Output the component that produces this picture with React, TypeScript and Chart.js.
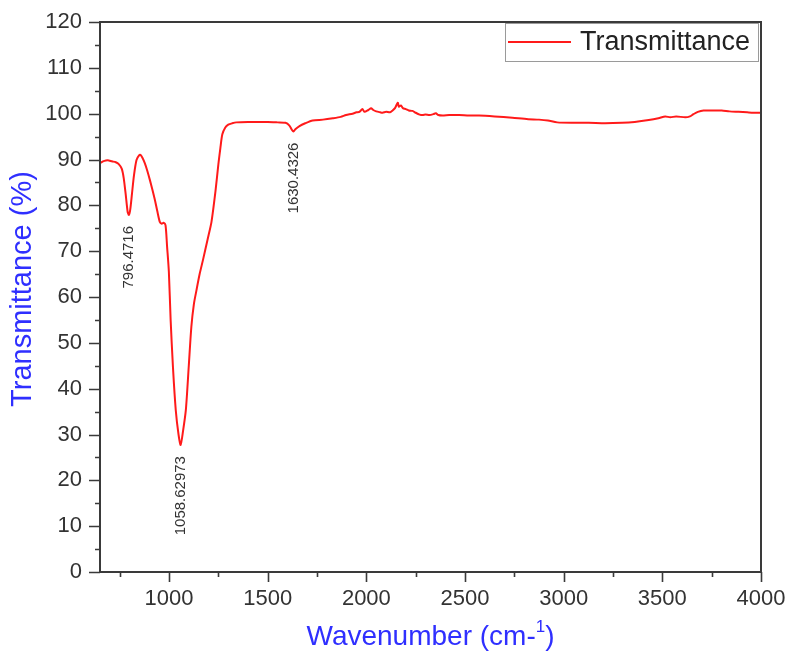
import React, { useEffect, useRef } from "react";
import { Chart, registerables } from "chart.js";

Chart.register(...registerables);

// FTIR spectrum: wavenumber (cm-1) vs transmittance (%)
const wavenumbers = [
  650, 665, 680, 695, 710, 730, 745, 760, 770, 780, 790, 796.4716, 803, 812, 822, 835, 848, 855, 865, 877,
  890, 903, 915, 928, 940, 953, 963, 972, 982, 990, 999, 1008, 1020, 1034, 1048, 1058.62973, 1070, 1085, 1100, 1113,
  1126, 1139, 1155, 1172, 1195, 1215, 1235, 1250, 1260, 1270, 1285, 1300, 1320, 1341, 1400, 1450, 1500, 1550, 1590, 1610,
  1622, 1630.4326, 1640, 1661, 1690, 1728, 1780, 1830, 1870, 1897, 1930, 1950, 1965, 1980, 1990, 2010, 2024, 2035, 2050, 2070,
  2082, 2100, 2120, 2133, 2145, 2159, 2165, 2175, 2185, 2200, 2215, 2234, 2250, 2270, 2285, 2300, 2320, 2340, 2352, 2365,
  2386, 2420, 2470, 2520, 2571, 2650, 2740, 2820, 2875, 2920, 2967, 3050, 3127, 3210, 3296, 3360, 3431, 3480, 3515, 3540,
  3570, 3616, 3640, 3658, 3680, 3709, 3750, 3801, 3840, 3886, 3930, 3979, 4000,
];

const transmittance = [
  89.2, 89.6, 89.8, 89.8, 89.6, 89.4, 89.0, 88.0, 86.0, 82.5, 78.6, 77.9, 79.0, 82.5, 86.5, 89.9, 90.9, 91.0, 90.4, 89.2,
  87.5, 85.5, 83.5, 81.2, 78.8, 76.4, 76.0, 76.2, 75.7, 71.0, 65.5, 55.0, 44.5, 35.3, 30.0, 27.7, 30.5, 35.3, 45.0, 53.5,
  58.5, 61.5, 65.0, 68.1, 72.5, 76.4, 83.0, 89.0, 92.5, 95.5, 97.0, 97.6, 97.9, 98.1, 98.2, 98.2, 98.2, 98.1, 98.0, 97.4,
  96.5, 96.1, 96.6, 97.3, 97.9, 98.5, 98.7, 99.0, 99.3, 99.7, 100.0, 100.3, 100.4, 101.0, 100.4, 100.8, 101.2, 100.8, 100.5, 100.3,
  100.2, 100.4, 100.3, 100.7, 101.2, 102.4, 101.5, 101.8, 101.2, 101.0, 100.7, 100.6, 100.2, 99.8, 99.7, 99.8, 99.7, 99.9, 100.1, 99.7,
  99.6, 99.7, 99.7, 99.6, 99.6, 99.4, 99.1, 98.8, 98.7, 98.5, 98.1, 98.0, 98.0, 97.9, 98.0, 98.2, 98.6, 99.0, 99.4, 99.2,
  99.4, 99.2, 99.4, 99.9, 100.4, 100.7, 100.7, 100.7, 100.5, 100.4, 100.3, 100.2, 100.2,
];

// Labelled absorption bands
const peakWavenumbers = [796.4716, 1058.62973, 1630.4326];
const peakTexts = ["796.4716", "1058.62973", "1630.4326"];

const xTickValues = [1000, 1500, 2000, 2500, 3000, 3500, 4000];
const xMinorStep = 250;
const yMinorStep = 5;

const seriesName = "Transmittance";
const xTitle = "Wavenumber (cm-";
const xTitleSup = "1";
const yTitle = "Transmittance (%)";

const FONT = "'Liberation Sans', Arial, sans-serif";
const AXIS_COLOR = "#3a3a3a";
const TITLE_COLOR = "#2f2fff";
const LINE_COLOR = "#ff1a1a";

const decorations = {
  id: "decorations",
  afterDraw(chart: any) {
    const { ctx, chartArea: a, scales } = chart;
    const xs = scales.x;
    const ys = scales.y;
    ctx.save();

    // frame
    ctx.strokeStyle = AXIS_COLOR;
    ctx.lineWidth = 2;
    ctx.strokeRect(a.left, a.top, a.right - a.left, a.bottom - a.top);

    // outward tick marks
    ctx.lineWidth = 1.6;
    ctx.beginPath();
    for (let v = Math.ceil(xs.min / xMinorStep) * xMinorStep; v <= xs.max; v += xMinorStep) {
      const px = Math.round(xs.getPixelForValue(v)) + 0.5;
      const len = v % 500 === 0 ? 10 : 5;
      ctx.moveTo(px, a.bottom);
      ctx.lineTo(px, a.bottom + len);
    }
    for (let v = ys.min; v <= ys.max; v += yMinorStep) {
      const py = Math.round(ys.getPixelForValue(v)) + 0.5;
      const len = v % 10 === 0 ? 11 : 5;
      ctx.moveTo(a.left, py);
      ctx.lineTo(a.left - len, py);
    }
    ctx.stroke();

    // band labels, rotated, placed just below each minimum
    ctx.fillStyle = "#333";
    ctx.font = `15px ${FONT}`;
    ctx.textAlign = "right";
    ctx.textBaseline = "middle";
    peakWavenumbers.forEach((w, i) => {
      const idx = wavenumbers.indexOf(w);
      const px = xs.getPixelForValue(w);
      const py = ys.getPixelForValue(transmittance[idx]) + 11;
      ctx.save();
      ctx.translate(px, py);
      ctx.rotate(-Math.PI / 2);
      ctx.fillText(peakTexts[i], 0, 0);
      ctx.restore();
    });

    // legend box
    const lx = 505, ly = 23, lw = 253, lh = 38;
    ctx.fillStyle = "#fff";
    ctx.fillRect(lx, ly, lw, lh);
    ctx.strokeStyle = "#9a9a9a";
    ctx.lineWidth = 1;
    ctx.strokeRect(lx + 0.5, ly + 0.5, lw, lh);
    ctx.strokeStyle = LINE_COLOR;
    ctx.lineWidth = 2;
    ctx.beginPath();
    ctx.moveTo(lx + 3, ly + 19);
    ctx.lineTo(lx + 66, ly + 19);
    ctx.stroke();
    ctx.fillStyle = "#222";
    ctx.font = `27px ${FONT}`;
    ctx.textAlign = "left";
    ctx.textBaseline = "middle";
    ctx.fillText(chart.data.datasets[0].label, lx + 75, ly + 20);

    // axis titles
    ctx.fillStyle = TITLE_COLOR;
    ctx.font = `29px ${FONT}`;
    ctx.save();
    ctx.translate(23, 289);
    ctx.rotate(-Math.PI / 2);
    ctx.textAlign = "center";
    ctx.textBaseline = "middle";
    ctx.fillText(yTitle, 0, 0);
    ctx.restore();

    ctx.font = `28px ${FONT}`;
    const mainW = ctx.measureText(xTitle).width;
    ctx.font = `17px ${FONT}`;
    const supW = ctx.measureText(xTitleSup).width;
    ctx.font = `28px ${FONT}`;
    const closeW = ctx.measureText(")").width;
    const total = mainW + supW + closeW;
    const cx = (a.left + a.right) / 2;
    let tx = cx - total / 2;
    const ty = 637;
    ctx.textAlign = "left";
    ctx.textBaseline = "middle";
    ctx.fillText(xTitle, tx, ty);
    tx += mainW;
    ctx.font = `17px ${FONT}`;
    ctx.fillText(xTitleSup, tx, ty - 10);
    tx += supW;
    ctx.font = `28px ${FONT}`;
    ctx.fillText(")", tx, ty);

    ctx.restore();
  },
};

export default function App() {
  const canvasRef = useRef<HTMLCanvasElement | null>(null);

  useEffect(() => {
    const canvas = canvasRef.current;
    if (!canvas) return;
    const points = wavenumbers.map((w, i) => ({ x: w, y: transmittance[i] }));
    const chart = new Chart(canvas, {
      type: "line",
      data: {
        datasets: [
          {
            label: seriesName,
            data: points,
            borderColor: LINE_COLOR,
            borderWidth: 2,
            pointRadius: 0,
            tension: 0.25,
            fill: false,
          },
        ],
      },
      options: {
        responsive: false,
        animation: false,
        parsing: false,
        layout: { padding: { top: 22, right: 28, left: 0, bottom: 0 } },
        plugins: {
          legend: { display: false },
          tooltip: { enabled: false },
        },
        scales: {
          x: {
            type: "linear",
            min: 650,
            max: 4000,
            grid: { display: false, drawTicks: false },
            border: { display: false },
            ticks: {
              color: "#333",
              font: { family: FONT, size: 22 },
              padding: 14,
              maxRotation: 0,
              autoSkip: false,
              callback: (v: any) => String(v),
            },
            afterBuildTicks: (s: any) => {
              s.ticks = xTickValues.map((v) => ({ value: v }));
            },
            afterFit: (s: any) => {
              s.height = 89;
              s.paddingLeft = 0;
              s.paddingRight = 0;
            },
          },
          y: {
            type: "linear",
            min: 0,
            max: 120,
            grid: { display: false, drawTicks: false },
            border: { display: false },
            ticks: {
              stepSize: 10,
              color: "#333",
              font: { family: FONT, size: 22 },
              padding: 18,
            },
            afterFit: (s: any) => {
              s.width = 100;
              s.paddingTop = 0;
              s.paddingBottom = 0;
            },
          },
        },
      },
      plugins: [decorations],
    });
    return () => chart.destroy();
  }, []);

  return (
    <div style={{ position: "absolute", left: 0, top: 0, width: 789, height: 661, background: "#fff" }}>
      <canvas ref={canvasRef} width={789} height={661} style={{ display: "block" }} />
    </div>
  );
}
